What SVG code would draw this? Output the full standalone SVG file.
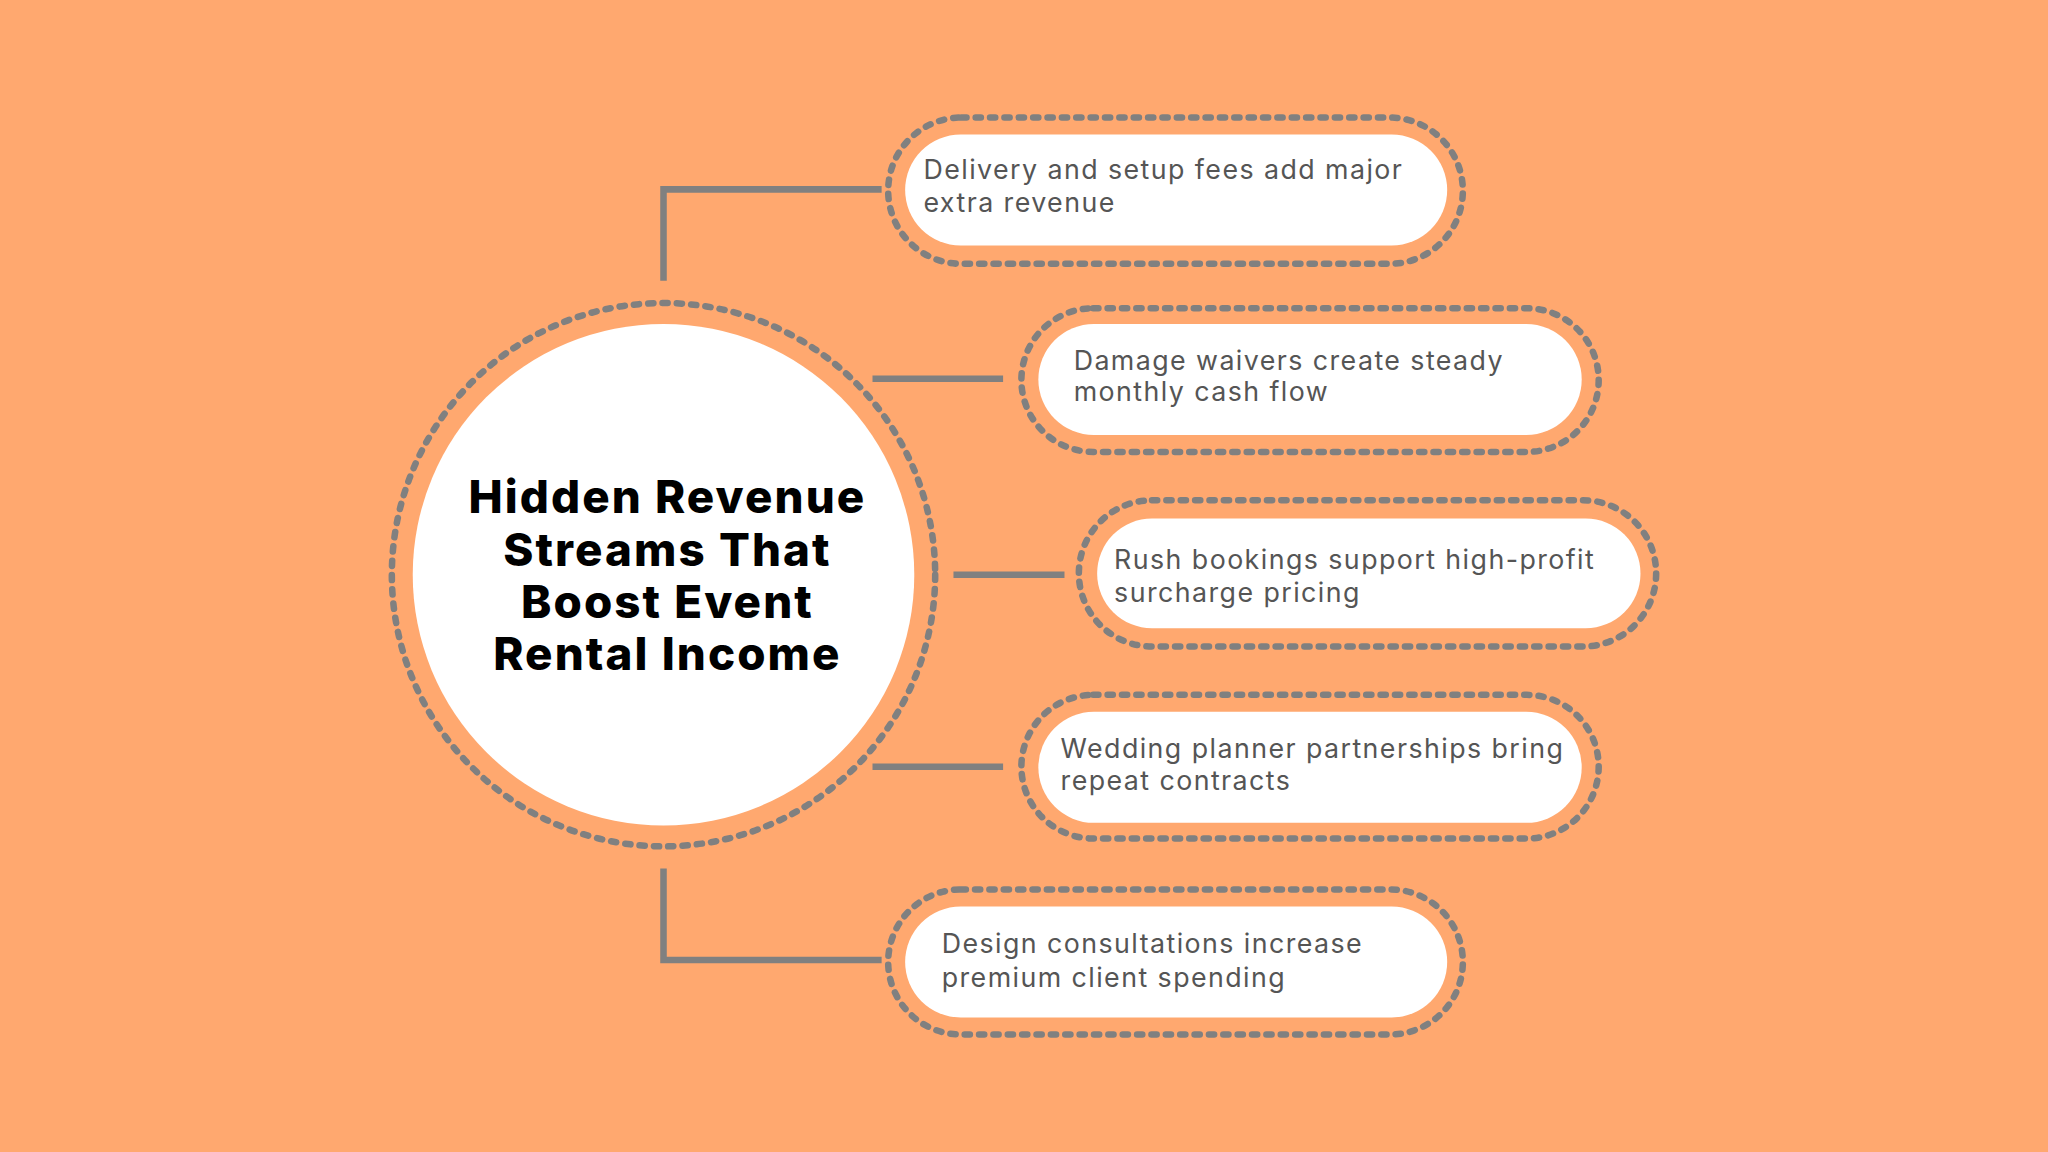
<svg xmlns="http://www.w3.org/2000/svg" width="2048" height="1152" viewBox="0 0 2048 1152">
<style>
.ring{fill:none;stroke:#808080;stroke-width:5;stroke-dasharray:4 7;stroke-linecap:round}
.pill{fill:#fff}
.t{font-family:Inter,"Open Sans",sans-serif;font-size:20.5px;fill:#555;letter-spacing:1.1px}
.title{font-family:Inter,"Open Sans",sans-serif;font-size:35px;font-weight:800;fill:#000;text-anchor:middle;letter-spacing:1.6px}
.c{fill:none;stroke:#808080;stroke-width:5}
</style>
<rect width="2048" height="1152" fill="#FFA86F"/>
<g transform="scale(1.30612)">
<g id="connectors">
<path class="c" d="M508 215V145H675"/>
<path class="c" d="M668 290H768"/>
<path class="c" d="M730 440H815"/>
<path class="c" d="M668 587H768"/>
<path class="c" d="M508 665V735H675"/>
</g>
<g id="center">
<circle class="ring" cx="508" cy="440" r="208"/>
<circle fill="#fff" cx="508" cy="440" r="192"/>
<text class="title" x="511" y="393">Hidden Revenue</text>
<text class="title" x="511" y="433">Streams That</text>
<text class="title" x="511" y="473">Boost Event</text>
<text class="title" x="511" y="513">Rental Income</text>
</g>
<g id="n1">
<rect class="ring" x="680" y="90" width="440" height="112" rx="56"/>
<rect class="pill" x="693" y="103" width="415" height="85" rx="42.5"/>
<text class="t" x="707" y="137">Delivery and setup fees add major</text>
<text class="t" x="707" y="162">extra revenue</text>
</g>
<g id="n2">
<rect class="ring" x="782" y="236" width="442" height="110" rx="55"/>
<rect class="pill" x="795" y="248" width="416" height="85" rx="42.5"/>
<text class="t" x="822" y="283">Damage waivers create steady</text>
<text class="t" x="822" y="307">monthly cash flow</text>
</g>
<g id="n3">
<rect class="ring" x="826" y="383" width="442" height="112" rx="56"/>
<rect class="pill" x="840" y="397" width="416" height="84" rx="42"/>
<text class="t" x="853" y="436">Rush bookings support high-profit</text>
<text class="t" x="853" y="461">surcharge pricing</text>
</g>
<g id="n4">
<rect class="ring" x="782" y="532" width="442" height="110" rx="55"/>
<rect class="pill" x="795" y="545" width="416" height="85" rx="42.5"/>
<text class="t" x="812" y="580">Wedding planner partnerships bring</text>
<text class="t" x="812" y="605">repeat contracts</text>
</g>
<g id="n5">
<rect class="ring" x="680" y="681" width="440" height="111" rx="55.5"/>
<rect class="pill" x="693" y="694" width="415" height="85" rx="42.5"/>
<text class="t" x="721" y="730">Design consultations increase</text>
<text class="t" x="721" y="756">premium client spending</text>
</g>
</g>
</svg>
